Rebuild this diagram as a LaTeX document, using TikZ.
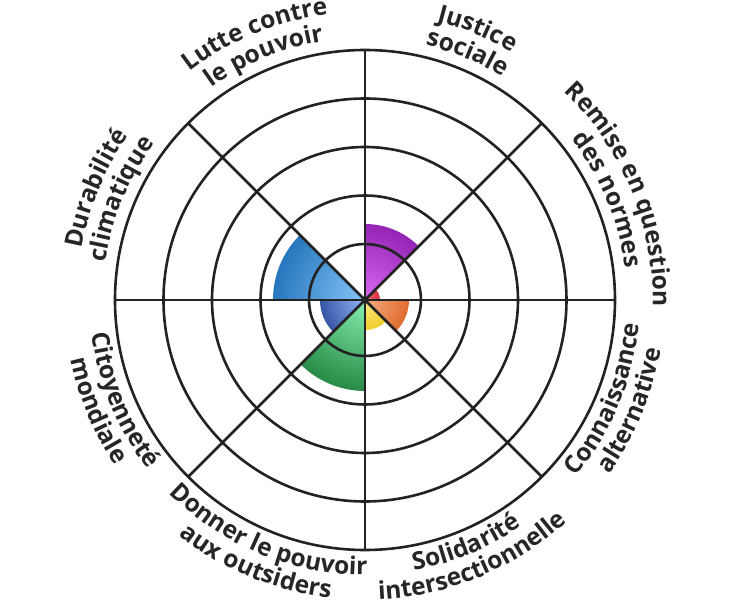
\documentclass[tikz,border=0pt]{standalone}
\usepackage{fontspec}
\setmainfont{Open Sans}
\usetikzlibrary{decorations.text}

\definecolor{gridink}{HTML}{222222}
\definecolor{labelink}{HTML}{262626}
\definecolor{violetin}{HTML}{D96AF2}  \definecolor{violetout}{HTML}{9424B4}
\definecolor{redin}{HTML}{F2707C}     \definecolor{redout}{HTML}{D6303C}
\definecolor{orangein}{HTML}{F6AE84}  \definecolor{orangeout}{HTML}{DF6B2C}
\definecolor{yellowin}{HTML}{FCEB86}  \definecolor{yellowout}{HTML}{F0CC2A}
\definecolor{greenin}{HTML}{86EEAE}   \definecolor{greenout}{HTML}{278A46}
\definecolor{indigoin}{HTML}{96B6FA}  \definecolor{indigoout}{HTML}{3656A6}
\definecolor{bluein}{HTML}{86C6F8}    \definecolor{blueout}{HTML}{2676BE}

\newcommand{\lblfont}{\fontsize{24.5}{27}\selectfont\bfseries\color{labelink}}

% coloured wedge, shaded from the centre
\newcommand{\petal}[5]{%
  \begin{scope}
    \clip (0,0) -- (#1:#3) arc[start angle=#1, end angle=#2, radius=#3] -- cycle;
    \shade[inner color=#4, outer color=#5] (0,0) circle[radius=#3];
  \end{scope}}

% two-line label bent on the ring, upper half
\newcommand{\uplabel}[3]{%
  \path[arc text={#2}] ({#1+40}:288) arc[start angle=#1+40, end angle=#1-40, radius=288];
  \path[arc text={#3}] ({#1+40}:262) arc[start angle=#1+40, end angle=#1-40, radius=262];}

% same, lower half
\newcommand{\lowlabel}[3]{%
  \path[arc text={#2}] ({#1-40}:275) arc[start angle=#1-40, end angle=#1+40, radius=275];
  \path[arc text={#3}] ({#1-40}:300) arc[start angle=#1-40, end angle=#1+40, radius=300];}

\tikzset{
  ring/.style={draw=gridink, line width=2.6pt},
  spoke/.style={draw=gridink, line width=2.6pt},
  arc text/.style={decorate, decoration={text along path, text align=center,
      text={|\lblfont|#1}}},
}

\begin{document}
\begin{tikzpicture}[x=1pt, y=1pt]
    \useasboundingbox[fill=white] (-365,-300) rectangle (367,300);

    \petal{45}{90}{76}{violetin}{violetout}
    \petal{0}{45}{15}{redin}{redout}
    \petal{-45}{0}{44}{orangein}{orangeout}
    \petal{-90}{-45}{30}{yellowin}{yellowout}
    \petal{-135}{-90}{91}{greenin}{greenout}
    \petal{180}{225}{45}{indigoin}{indigoout}
    \petal{135}{180}{92}{bluein}{blueout}

    \foreach \r in {56,104.5,153,201.5,250}
        \draw[ring] (0,0) circle[radius=\r];
    \foreach \a in {0,45,...,315}
        \draw[spoke] (0,0) -- (\a:250);

    \uplabel{112.5}{Lutte contre}{le pouvoir}
    \uplabel{67.5}{Justice}{sociale}
    \uplabel{22.5}{Remise en question}{des normes}
    \uplabel{157.5}{Durabilité}{climatique}
    \lowlabel{202.5}{Citoyenneté}{mondiale}
    \lowlabel{247.5}{Donner le pouvoir}{aux outsiders}
    \lowlabel{292.5}{Solidarité}{intersectionnelle}
    \lowlabel{337.5}{Connaissance}{alternative}
\end{tikzpicture}
\end{document}
